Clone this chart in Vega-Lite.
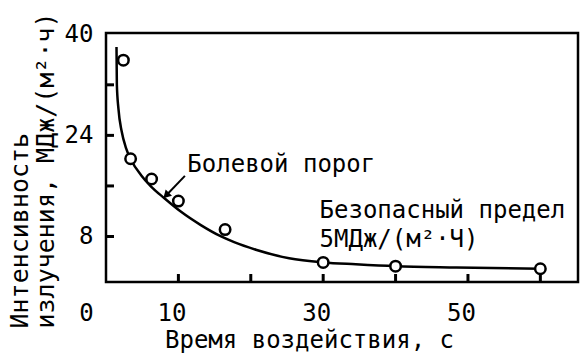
{
  "$schema": "https://vega.github.io/schema/vega-lite/v6.json",
  "autosize": "none",
  "width": 472,
  "height": 249,
  "padding": {"left": 106, "top": 33, "right": 7, "bottom": 81},
  "background": "white",
  "config": {
    "view": {"stroke": "black", "strokeWidth": 2.5},
    "font": "DejaVu Sans Mono",
    "axis": {"labelFont": "DejaVu Sans Mono", "titleFont": "DejaVu Sans Mono", "labelColor": "black", "titleColor": "black", "grid": false, "domain": false, "ticks": false, "titleFontWeight": "normal", "labelOverlap": false, "labelFlush": false, "labelBound": false}
  },
  "datasets": {
    "points": [
      {"t": 2.4, "i": 35.9},
      {"t": 3.4, "i": 20.3},
      {"t": 6.3, "i": 17.1},
      {"t": 10.0, "i": 13.6},
      {"t": 16.45, "i": 9.1},
      {"t": 30.0, "i": 3.9},
      {"t": 40.0, "i": 3.3},
      {"t": 60.0, "i": 2.9}
    ],
    "curve": [
      {"t": 1.45, "i": 38.0},
      {"t": 1.5, "i": 32.0},
      {"t": 1.71, "i": 28.3},
      {"t": 2.17, "i": 24.6},
      {"t": 2.78, "i": 21.96},
      {"t": 3.47, "i": 20.1},
      {"t": 4.85, "i": 17.7},
      {"t": 6.23, "i": 15.9},
      {"t": 8.07, "i": 14.05},
      {"t": 10.37, "i": 11.9},
      {"t": 13.1, "i": 9.8},
      {"t": 15.9, "i": 8.0},
      {"t": 17.7, "i": 7.1},
      {"t": 20.7, "i": 5.9},
      {"t": 25.3, "i": 4.55},
      {"t": 30.0, "i": 3.9},
      {"t": 34.5, "i": 3.6},
      {"t": 40.0, "i": 3.3},
      {"t": 48.4, "i": 3.1},
      {"t": 60.0, "i": 2.9}
    ],
    "xticks": [{"v": 10}, {"v": 20}, {"v": 30}, {"v": 40}, {"v": 50}, {"v": 60}],
    "yticks": [{"v": 8}, {"v": 16}, {"v": 24}, {"v": 32}],
    "one": [{}]
  },
  "layer": [
    {
      "data": {"name": "curve"},
      "mark": {"type": "line", "color": "black", "strokeWidth": 2.5, "interpolate": "monotone", "clip": true},
      "encoding": {
        "x": {
          "field": "t", "type": "quantitative",
          "scale": {"domain": [0, 65.2], "nice": false, "zero": false},
          "axis": {
            "values": [0, 10, 30, 50],
            "labelFontSize": 24,
            "labelBaseline": "alphabetic",
            "labelPadding": 38,
            "labelOffset": {"condition": {"test": "datum.value === 0", "value": -20}, "value": -7},
            "title": "Время воздействия, с",
            "titleFontSize": 24,
            "titleAlign": "center",
            "titleBaseline": "alphabetic",
            "titleX": 203,
            "titleY": 65
          }
        },
        "y": {
          "field": "i", "type": "quantitative",
          "scale": {"domain": [0.8, 40.2], "nice": false, "zero": false},
          "axis": {
            "values": [8, 24, 40],
            "labelFontSize": 24,
            "labelBaseline": "middle",
            "labelPadding": 13,
            "title": ["Интенсивность", "излучения, МДж/(м²·ч)"],
            "titleFontSize": 25,
            "titleAngle": -90,
            "titleAlign": "left",
            "titleBaseline": "alphabetic",
            "titleLineHeight": 26,
            "titleX": -79,
            "titleY": 295
          }
        }
      }
    },
    {
      "data": {"name": "xticks"},
      "mark": {"type": "tick", "color": "black", "orient": "vertical", "size": 8, "thickness": 3, "opacity": 1},
      "encoding": {
        "x": {"field": "v", "type": "quantitative"},
        "y": {"datum": 1.43, "type": "quantitative"}
      }
    },
    {
      "data": {"name": "yticks"},
      "mark": {"type": "tick", "color": "black", "orient": "horizontal", "size": 8, "thickness": 3, "opacity": 1},
      "encoding": {
        "y": {"field": "v", "type": "quantitative"},
        "x": {"datum": 0.55, "type": "quantitative"}
      }
    },
    {
      "data": {"name": "points"},
      "mark": {"type": "point", "shape": "circle", "filled": true, "fill": "white", "stroke": "black", "strokeWidth": 2.5, "size": 110, "opacity": 1},
      "encoding": {
        "x": {"field": "t", "type": "quantitative"},
        "y": {"field": "i", "type": "quantitative"}
      }
    },
    {
      "data": {"name": "one"},
      "mark": {"type": "rule", "color": "black", "strokeWidth": 2},
      "encoding": {
        "x": {"datum": 10.9, "type": "quantitative"},
        "y": {"datum": 17.6, "type": "quantitative"},
        "x2": {"datum": 8.4},
        "y2": {"datum": 14.6}
      }
    },
    {
      "data": {"name": "one"},
      "mark": {"type": "point", "shape": "triangle-up", "filled": true, "color": "black", "size": 80, "angle": 225, "opacity": 1},
      "encoding": {
        "x": {"datum": 8.3, "type": "quantitative"},
        "y": {"datum": 14.5, "type": "quantitative"}
      }
    },
    {
      "data": {"name": "one"},
      "mark": {"type": "text", "text": "Болевой порог", "font": "DejaVu Sans Mono", "fontSize": 24, "align": "left", "baseline": "alphabetic", "color": "black"},
      "encoding": {
        "x": {"datum": 11.24, "type": "quantitative"},
        "y": {"datum": 18.2, "type": "quantitative"}
      }
    },
    {
      "data": {"name": "one"},
      "mark": {"type": "text", "text": "Безопасный предел", "font": "DejaVu Sans Mono", "fontSize": 24, "align": "left", "baseline": "alphabetic", "color": "black"},
      "encoding": {
        "x": {"datum": 29.5, "type": "quantitative"},
        "y": {"datum": 10.93, "type": "quantitative"}
      }
    },
    {
      "data": {"name": "one"},
      "mark": {"type": "text", "text": "5МДж/(м²·Ч)", "font": "DejaVu Sans Mono", "fontSize": 24, "align": "left", "baseline": "alphabetic", "color": "black"},
      "encoding": {
        "x": {"datum": 29.5, "type": "quantitative"},
        "y": {"datum": 6.34, "type": "quantitative"}
      }
    }
  ]
}
